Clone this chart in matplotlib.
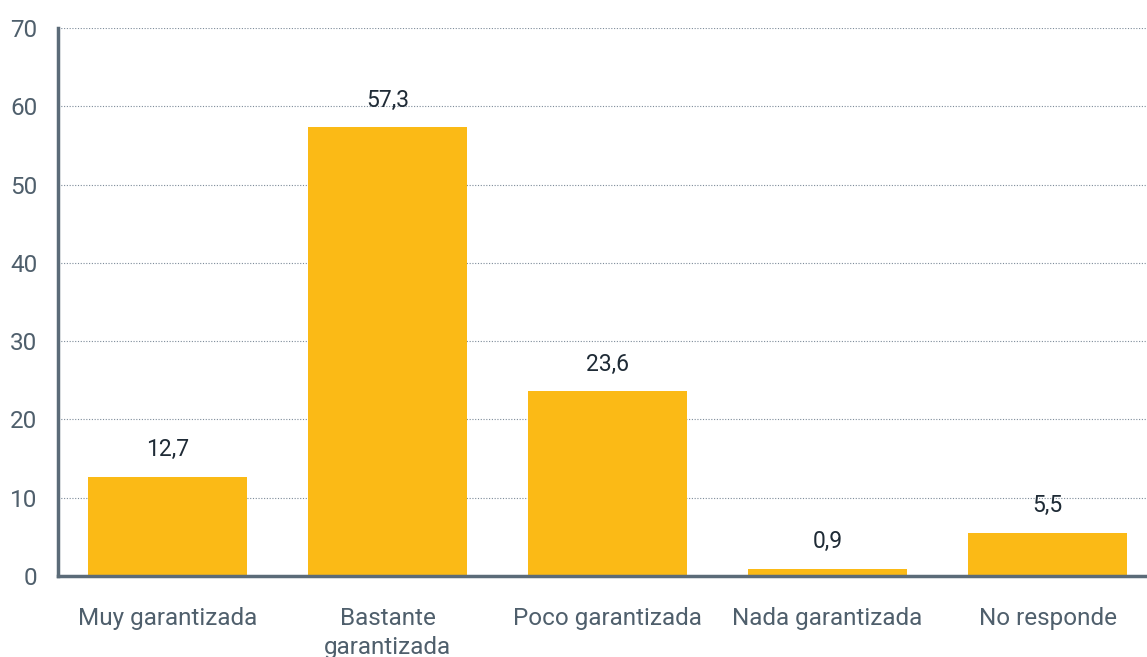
import matplotlib
matplotlib.use("Agg")
import matplotlib.pyplot as plt

categories = ["Muy garantizada", "Bastante\ngarantizada", "Poco garantizada",
              "Nada garantizada", "No responde"]
values = [12.7, 57.3, 23.6, 0.9, 5.5]
yticks = [0, 10, 20, 30, 40, 50, 60, 70]

bar_color = "#FBBA16"
axis_color = "#5B6B78"
label_color = "#4F5F6C"
value_color = "#1F2B36"

plt.rcParams["font.family"] = ["Roboto", "DejaVu Sans"]

fig = plt.figure(figsize=(11.47, 6.57), dpi=100)
ax = fig.add_axes([58 / 1147, 1 - 576 / 657, 1 - 58 / 1147, (576 - 28) / 657])

x = list(range(len(categories)))
ax.bar(x, values, width=0.723, color=bar_color, zorder=2)

for xi, v in zip(x, values):
    ax.text(xi, v + 2.0, f"{v:.1f}".replace(".", ","), ha="center", va="bottom",
            fontsize=16.5, color=value_color)

ax.set_xlim(-0.498, 4.452)
ax.set_ylim(0, 70)
ax.set_yticks(yticks)
ax.set_xticks(x)
ax.set_xticklabels(categories, fontsize=17.5, color=label_color, linespacing=1.35)
ax.tick_params(axis="y", labelsize=17.5, labelcolor=label_color, length=0, pad=15)
ax.tick_params(axis="x", length=0, pad=22)

ax.yaxis.grid(True, linestyle=(0, (1, 1.5)), color="#7D8B99", linewidth=0.8, zorder=0)
ax.set_axisbelow(True)

for side in ("top", "right"):
    ax.spines[side].set_visible(False)
for side in ("left", "bottom"):
    ax.spines[side].set_color(axis_color)
    ax.spines[side].set_linewidth(2.5)
    ax.spines[side].set_zorder(3)

fig.savefig("out.png", dpi=100)
